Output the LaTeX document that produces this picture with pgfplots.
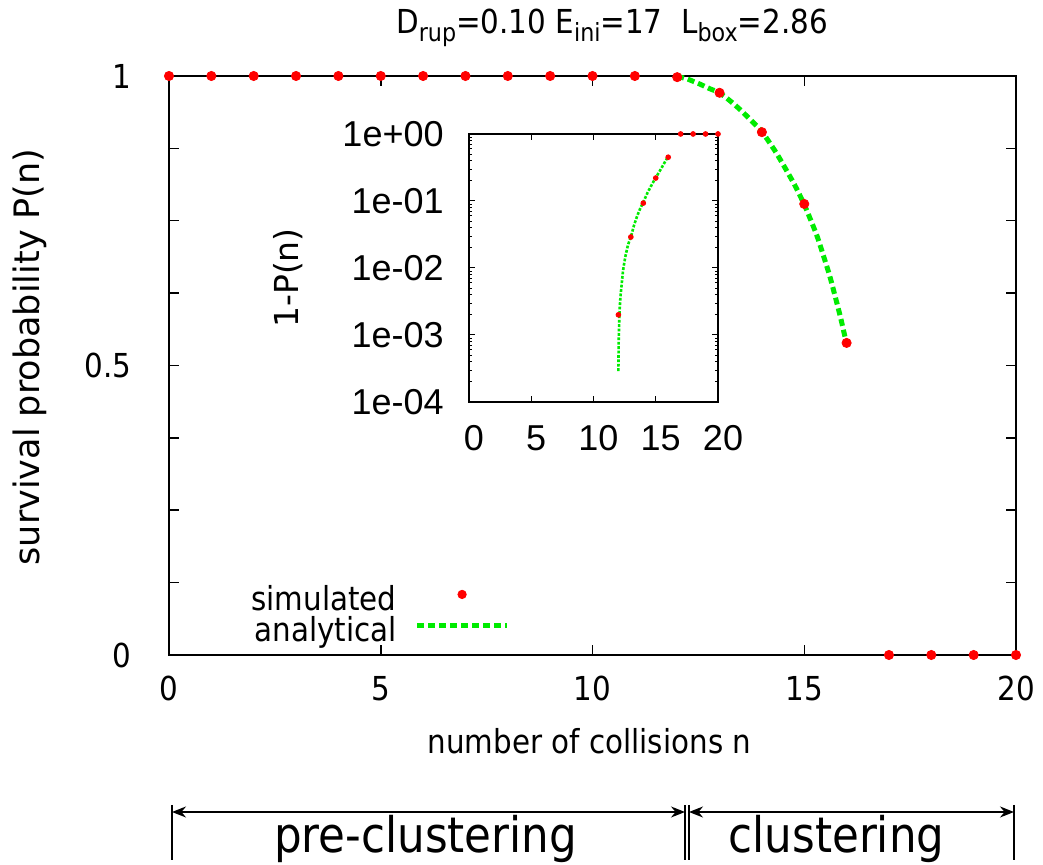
\documentclass[border=0pt]{standalone}
\usepackage{fontspec}
\setmainfont{DejaVu Sans}[FakeStretch=0.89]
\newfontfamily\rotfont{DejaVu Sans}
\newfontfamily\insetfont{Liberation Sans}
\usepackage{pgfplots}
\pgfplotsset{compat=1.18}
\usepackage{pgfplotstable}
\usetikzlibrary{arrows.meta}

\definecolor{simred}{RGB}{255,0,0}
\definecolor{anagreen}{RGB}{0,235,0}

\newcommand\fs{\fontsize{16.5pt}{19pt}\selectfont}
\newcommand\rfs{\rotfont\fontsize{17.5pt}{20pt}\selectfont}
\newcommand\irfs{\rotfont\fontsize{16.5pt}{19pt}\selectfont}
\newcommand\ifs{\insetfont\fontsize{18pt}{21pt}\selectfont}
\newcommand\bfs{\fontsize{24.5pt}{28pt}\selectfont}
\newcommand\sub[1]{\raisebox{-4pt}{\fontsize{12.5pt}{13pt}\selectfont #1}}

\pgfplotsset{
  simimg/.style={legend image code/.code={\fill[simred] (22.5pt,4pt) circle (2.1pt);}},
  anaimg/.style={legend image code/.code={\draw[anagreen, line width=2.5pt, dash pattern=on 3.5pt off 2pt] (0pt,4pt) -- (45pt,4pt);}},
}

\pgfplotstableread{
n P
0 1
1 1
2 1
3 1
4 1
5 1
6 1
7 1
8 1
9 1
10 1
11 1
12 0.998
13 0.971
14 0.903
15 0.779
16 0.539
17 0
18 0
19 0
20 0
}\simmain

\pgfplotstableread{
n q
12 0.002
13 0.029
14 0.093
15 0.22
16 0.45
17 1
18 1
19 1
20 1
}\siminset

\pgfplotstableread{
n q
12.00 0.00029
12.02 0.00076
12.06 0.0014
12.10 0.0024
12.17 0.0038
12.25 0.0054
12.37 0.0090
12.55 0.0145
12.77 0.022
13.00 0.029
13.25 0.043
13.50 0.059
13.75 0.077
14.00 0.096
14.35 0.134
14.75 0.185
15.00 0.222
15.30 0.276
15.60 0.345
15.85 0.415
16.00 0.463
}\analytic

\begin{document}
\begin{tikzpicture}
\useasboundingbox (-84.5pt,-105pt) rectangle (437pt,327.5pt);
\begin{axis}[
  at={(0pt,0pt)}, anchor=south west,
  scale only axis, width=423.5pt, height=289.5pt,
  xmin=0, xmax=20, ymin=0, ymax=1,
  axis line style={line width=1pt},
  xtick={0,5,10,15,20}, xticklabels={0,5,10,15,20},
  ytick={0,0.5,1}, yticklabels={0,0.5,1},
  minor y tick num=3,
  tick align=inside, tick pos=both,
  major tick length=5pt, minor tick length=5pt,
  tick style={black, line width=0.75pt},
  xticklabel style={font=\fs, anchor=base, yshift=-23pt, inner sep=0pt},
  yticklabel style={font=\fs, anchor=east, xshift=-18.5pt, inner sep=0pt},
  clip=false,
  legend plot pos=right,
  legend cell align=right,
  legend style={draw=none, fill=none, font=\fs,
    at={(0.4026,0.064)}, anchor=east, inner sep=0pt,
    column sep=9pt, row sep=0pt,
    nodes={inner sep=0pt, text height=12pt, text depth=3.5pt}},
]
\addplot[only marks, mark=*, mark size=2.3pt, color=simred, simimg]
  table[x=n, y=P] {\simmain};
\addlegendentry{simulated}
\addplot[no marks, color=anagreen, line width=2.5pt, dash pattern=on 3.5pt off 2pt, smooth, tension=0.3, anaimg]
  table[x=n, y expr=1-\thisrow{q}] {\analytic};
\addlegendentry{analytical}
\end{axis}

\begin{axis}[
  at={(150pt,126.5pt)}, anchor=south west,
  scale only axis, width=124.5pt, height=134pt,
  xmin=0, xmax=20, ymin=1e-4, ymax=1, ymode=log,
  axis line style={line width=0.75pt},
  xtick={0,5,10,15,20}, xticklabels={0,5,10,15,20},
  ytick={1e-4,1e-3,1e-2,1e-1,1},
  yticklabels={1e-04,1e-03,1e-02,1e-01,1e+00},
  minor ytick={2e-4,3e-4,4e-4,5e-4,6e-4,7e-4,8e-4,9e-4,
               2e-3,3e-3,4e-3,5e-3,6e-3,7e-3,8e-3,9e-3,
               2e-2,3e-2,4e-2,5e-2,6e-2,7e-2,8e-2,9e-2,
               2e-1,3e-1,4e-1,5e-1,6e-1,7e-1,8e-1,9e-1},
  tick align=inside, tick pos=both,
  major tick length=3pt, minor tick length=1.5pt,
  tick style={black, line width=0.5pt},
  xticklabel style={font=\ifs, anchor=base, yshift=-24.5pt, xshift=2.5pt, inner sep=0pt},
  yticklabel style={font=\ifs, anchor=east, xshift=-12.5pt, inner sep=0pt},
  clip=false,
]
\addplot[only marks, mark=*, mark size=1.2pt, color=simred]
  table[x=n, y=q] {\siminset};
\addplot[no marks, color=anagreen, line width=1.3pt, dash pattern=on 1.4pt off 0.8pt, smooth, tension=0.3]
  table[x=n, y=q] {\analytic};
\end{axis}

\node[font=\fs, anchor=base] at (221.5pt,310.5pt)
  {D\sub{rup}=0.10 E\sub{ini}=17\ \ L\sub{box}=2.86};
\node[font=\fs, anchor=base] at (210.25pt,-49.5pt) {number of collisions n};
\node[font=\rfs, rotate=90, anchor=center] at (-69.5pt,149pt) {survival probability P(n)};
\node[font=\irfs, rotate=90, anchor=center] at (59.5pt,188.5pt) {1-P(n)};

\draw[line width=0.75pt] (1.5pt,-75pt) -- (1.5pt,-102.5pt);
\draw[line width=0.75pt] (258pt,-75pt) -- (258pt,-102.5pt);
\draw[line width=0.75pt] (260pt,-75pt) -- (260pt,-102.5pt);
\draw[line width=0.75pt] (422.5pt,-75pt) -- (422.5pt,-102.5pt);
\draw[line width=0.75pt, {Stealth[length=7pt,width=5.5pt]}-{Stealth[length=7pt,width=5.5pt]}]
  (1.5pt,-78.5pt) -- (258pt,-78.5pt);
\draw[line width=0.75pt, {Stealth[length=7pt,width=5.5pt]}-{Stealth[length=7pt,width=5.5pt]}]
  (260pt,-78.5pt) -- (422.5pt,-78.5pt);
\node[font=\bfs, anchor=base] at (128.25pt,-99pt) {pre-clustering};
\node[font=\bfs, anchor=base] at (333.75pt,-99pt) {clustering};
\end{tikzpicture}
\end{document}
